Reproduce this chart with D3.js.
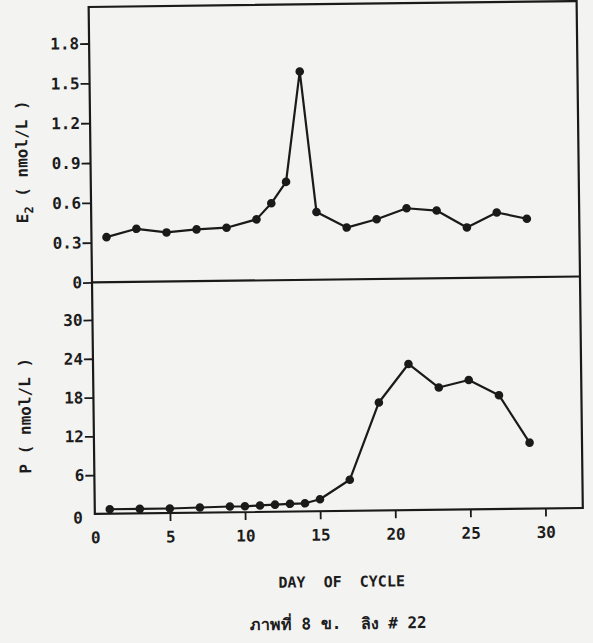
<!DOCTYPE html>
<html>
<head>
<meta charset="utf-8">
<script src="https://cdn.jsdelivr.net/npm/d3@7/dist/d3.min.js"></script>
<style>
  html, body { margin: 0; padding: 0; background: #f3f3f1; }
  svg { display: block; }
  text { font-family: "DejaVu Sans Mono", "Liberation Mono", monospace; fill: #1c1c1c; font-weight: bold; }
</style>
</head>
<body>
<svg id="chart" width="593" height="643"></svg>
<script>
// Estradiol (E2) by day of cycle
const e2Days   = [1, 3, 5, 7, 9, 11, 12, 13, 14, 15, 17, 19, 21, 23, 25, 27, 29];
const e2Values = [0.34, 0.40, 0.37, 0.39, 0.40, 0.46, 0.58, 0.74, 1.57, 0.51, 0.39, 0.45, 0.53, 0.51, 0.38, 0.49, 0.44];

// Progesterone (P) by day of cycle
const pDays   = [1, 3, 5, 7, 9, 10, 11, 12, 13, 14, 15, 17, 19, 21, 23, 25, 27, 29];
const pValues = [0.7, 0.7, 0.7, 0.8, 0.9, 0.9, 1.0, 1.1, 1.2, 1.25, 1.85, 4.8, 16.7, 22.6, 18.9, 20.0, 17.6, 10.2];

// Tick values
const dayTicks = [0, 5, 10, 15, 20, 25, 30];
const e2Ticks  = [0, 0.3, 0.6, 0.9, 1.2, 1.5, 1.8];
const pTicks   = [0, 6, 12, 18, 24, 30];

const ink = "#1a1a1a";
const svg = d3.select("#chart");
// the printed page sits a little askew
const root = svg.append("g").attr("transform", "rotate(-0.7, 335, 280)");

const x  = d3.scaleLinear().domain([0, 30]).range([92, 542.6]);
const yE = d3.scaleLinear().domain([0, 1.8]).range([279.5, 40.5]);
const yP = d3.scaleLinear().domain([0, 30]).range([511, 317]);

const frameTop = 4, frameRight = 580;

// frame and panel divider
root.append("rect")
  .attr("x", x(0)).attr("y", frameTop)
  .attr("width", frameRight - x(0)).attr("height", yP(0) - frameTop)
  .attr("fill", "none").attr("stroke", ink).attr("stroke-width", 2.2);
root.append("line")
  .attr("x1", x(0)).attr("x2", frameRight)
  .attr("y1", yE(0)).attr("y2", yE(0))
  .attr("stroke", ink).attr("stroke-width", 2.2);

function styleAxis(g) {
  g.select(".domain").remove();
  g.selectAll(".tick line").attr("stroke", ink).attr("stroke-width", 1.8);
  g.selectAll(".tick text").attr("fill", ink).style("font-size", "16px")
    .style("font-weight", "bold")
    .style("font-family", "'DejaVu Sans Mono', monospace");
}

// E2 axis
root.append("g")
  .attr("transform", `translate(${x(0)},0)`)
  .call(d3.axisLeft(yE).tickValues(e2Ticks).tickSize(9).tickPadding(1)
        .tickFormat(d => d === 0 ? "0" : d3.format(".1f")(d)))
  .call(styleAxis);

// P axis
const pAxis = root.append("g")
  .attr("transform", `translate(${x(0)},0)`)
  .call(d3.axisLeft(yP).tickValues(pTicks).tickSize(9).tickPadding(1))
  .call(styleAxis);
pAxis.selectAll(".tick").filter(d => d === 0).select("line").remove();
pAxis.selectAll(".tick").filter(d => d === 0).select("text").attr("x", -12).attr("dy", "0.55em");

// day axis
const xAxis = root.append("g")
  .attr("transform", `translate(0,${yP(0)})`)
  .call(d3.axisBottom(x).tickValues(dayTicks).tickSize(8).tickPadding(10))
  .call(styleAxis);
xAxis.selectAll(".tick").filter(d => d === 0).select("line").remove();

// series
function drawSeries(days, values, y) {
  const pts = days.map((d, i) => [d, values[i]]);
  root.append("path")
    .datum(pts)
    .attr("fill", "none").attr("stroke", ink).attr("stroke-width", 2.2)
    .attr("stroke-linejoin", "round")
    .attr("d", d3.line().x(p => x(p[0])).y(p => y(p[1])));
  root.append("g").selectAll("circle")
    .data(pts).join("circle")
    .attr("cx", p => x(p[0])).attr("cy", p => y(p[1]))
    .attr("r", 4.3).attr("fill", ink);
}
drawSeries(e2Days, e2Values, yE);
drawSeries(pDays, pValues, yP);

// axis titles
const e2Title = root.append("text")
  .attr("transform", "translate(29,158) rotate(-90)")
  .attr("text-anchor", "middle").style("font-size", "16px");
e2Title.append("tspan").text("E");
e2Title.append("tspan").attr("dy", 5).style("font-size", "12px").text("2");
e2Title.append("tspan").attr("dy", -5).text(" ( nmol/L )");

root.append("text")
  .attr("transform", "translate(29,412) rotate(-90)")
  .attr("text-anchor", "middle").style("font-size", "16px")
  .text("P ( nmol/L )");

root.append("text")
  .attr("x", 338).attr("y", 587)
  .attr("text-anchor", "middle").style("font-size", "15px")
  .attr("xml:space", "preserve")
  .text("DAY  OF  CYCLE");

root.append("text")
  .attr("x", 334).attr("y", 629)
  .attr("text-anchor", "middle").style("font-size", "16px")
  .attr("xml:space", "preserve")
  .text("ภาพที่ 8 ข.  ลิง # 22");
</script>
</body>
</html>
